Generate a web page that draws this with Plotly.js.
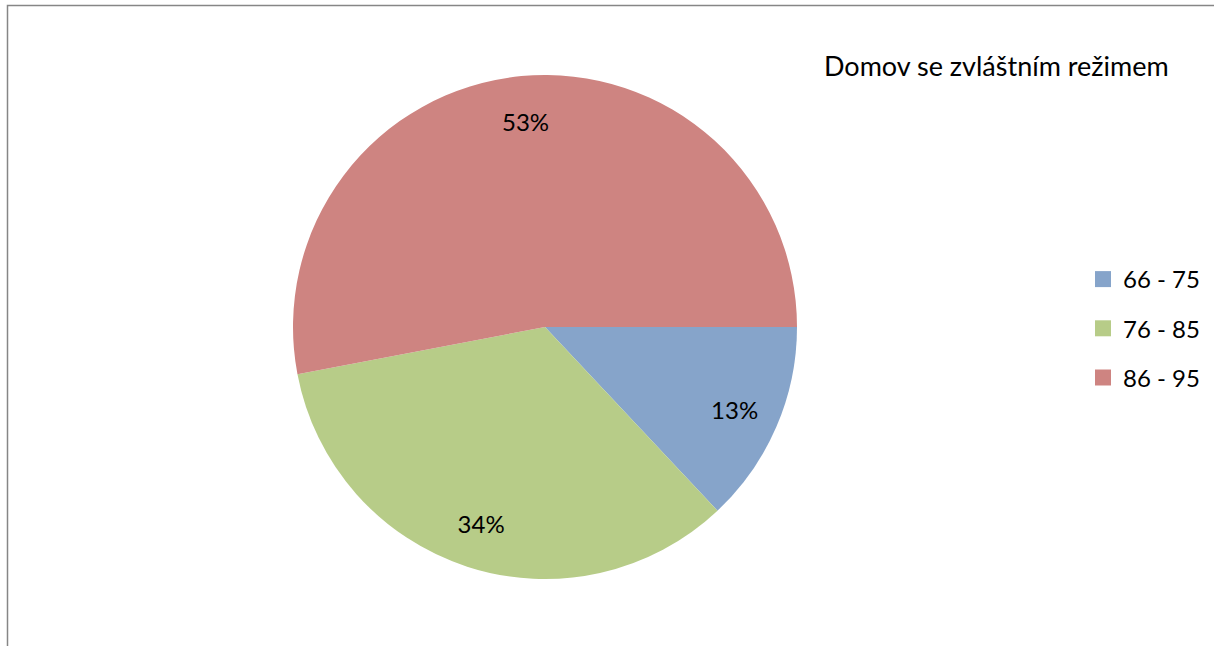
<!DOCTYPE html>
<html>
<head>
<meta charset="utf-8">
<script src="https://cdn.plot.ly/plotly-3.0.1.min.js"></script>
<style>html,body{margin:0;padding:0;background:#fff;}#chart{width:1214px;height:646px;}</style>
</head>
<body>
<div id="chart"></div>
<script>
const categories = ["66 - 75", "76 - 85", "86 - 95"];
const values = [13, 34, 53];
const colors = ["#86A4CA", "#B7CC88", "#CE8481"];
const chartTitle = "Domov se zvláštním režimem";

const FONT = "Lato, 'Liberation Sans', sans-serif";
const W = 1214, H = 646;
const pieDomain = {x: [293 / W, 797 / W], y: [(H - 579) / H, (H - 75) / H]};

// filled pie (no text)
const pie = {
  type: "pie",
  labels: categories,
  values: values,
  sort: false,
  direction: "clockwise",
  rotation: 90,
  marker: {colors: colors, line: {width: 0}},
  textinfo: "none",
  hoverinfo: "label+percent",
  showlegend: false,
  domain: pieDomain
};

// transparent ring overlay used only to place the percentage labels near the rim
const labelRing = {
  type: "pie",
  labels: categories,
  values: values,
  sort: false,
  direction: "clockwise",
  rotation: 90,
  hole: 0.64,
  marker: {colors: ["rgba(0,0,0,0)", "rgba(0,0,0,0)", "rgba(0,0,0,0)"], line: {width: 0}},
  textinfo: "percent",
  textposition: "inside",
  insidetextorientation: "horizontal",
  texttemplate: "%{percent:.0%}",
  textfont: {family: FONT, size: 24, color: "#000"},
  hoverinfo: "skip",
  showlegend: false,
  domain: pieDomain
};

const legendTraces = categories.map((c, i) => ({
  type: "scatter",
  x: [null], y: [null],
  mode: "markers",
  name: c,
  legendgroup: "g" + i,
  marker: {symbol: "square", size: 16, color: colors[i]},
  showlegend: true,
  hoverinfo: "skip"
}));

const layout = {
  width: W, height: H,
  margin: {l: 0, r: 0, t: 0, b: 0},
  paper_bgcolor: "#fff",
  plot_bgcolor: "#fff",
  showlegend: true,
  xaxis: {visible: false},
  yaxis: {visible: false},
  legend: {
    x: 1083 / W, xanchor: "left",
    y: (H - 257) / H, yanchor: "top",
    font: {family: FONT, size: 24, color: "#000"},
    tracegroupgap: 15,
    itemclick: false, itemdoubleclick: false,
    bgcolor: "rgba(0,0,0,0)"
  },
  annotations: [{
    text: chartTitle,
    xref: "paper", yref: "paper",
    x: 996 / W, y: (H - 65) / H,
    xanchor: "center", yanchor: "middle",
    showarrow: false,
    font: {family: FONT, size: 27, color: "#000"}
  }],
  shapes: [{
    type: "path", xref: "paper", yref: "paper",
    path: "M " + (7.5 / W) + " 0 L " + (7.5 / W) + " " + ((H - 5.5) / H) + " L 1 " + ((H - 5.5) / H),
    line: {color: "#868686", width: 1.5}
  }]
};

Plotly.newPlot("chart", [pie, labelRing].concat(legendTraces), layout, {displayModeBar: false});
</script>
</body>
</html>
